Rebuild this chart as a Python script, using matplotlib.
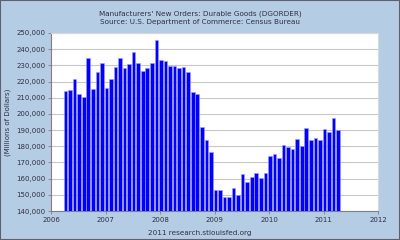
import matplotlib.pyplot as plt
from matplotlib.patches import Rectangle

# monthly durable goods orders, millions of dollars, Apr 2006 - Apr 2011
start_year = 2006
start_month = 4
orders = [214100, 214900, 221500, 212200, 210400, 234600, 215300, 225600, 231300,
          216100, 221300, 229100, 234600, 228200, 230700, 238500, 231300, 226600,
          228600, 231300, 245500, 233200, 232500, 229900, 229700, 228200, 229000,
          226000, 213700, 212300, 192200, 184000, 176200, 152700, 153100, 148600,
          148600, 154500, 149800, 162900, 157800, 161300, 163500, 160600, 163600,
          174200, 175000, 172900, 180500, 179300, 178500, 184400, 179900, 191100,
          184000, 185000, 183800, 190500, 188900, 197500, 190100]
years = [2006, 2007, 2008, 2009, 2010, 2011, 2012]

title = "Manufacturers' New Orders: Durable Goods (DGORDER)\nSource: U.S. Department of Commerce: Census Bureau"

bg = '#b4cce4'
txt = '#303040'

fig = plt.figure(figsize=(4, 2.4), dpi=100, facecolor=bg)
ax = fig.add_axes([0.1275, 0.1208, 0.8175, 0.7417])
ax.set_facecolor('white')

# bar x positions as decimal years
xs = []
for i in range(len(orders)):
    m = start_month - 1 + i
    xs.append(start_year + (m + 0.2) / 12)

ax.bar(xs, orders, width=0.8 / 12, color='#0000ff', edgecolor='#a0a0ff', linewidth=0.4, zorder=3)

ax.set_xlim(2006, 2012)
ax.set_ylim(140000, 250000)
ax.set_yticks(range(140000, 250001, 10000))
ax.set_yticklabels([f"{v:,}" for v in range(140000, 250001, 10000)])
ax.set_xticks(years)
ax.set_xticklabels([str(y) for y in years])
ax.tick_params(labelsize=5, colors='#808080', labelcolor=txt, length=2, width=0.6, pad=2)

ax.yaxis.grid(True, color='#c8c8c8', linewidth=0.8, zorder=0)
ax.set_axisbelow(True)
for s in ['left', 'bottom']:
    ax.spines[s].set_color('#808080')
    ax.spines[s].set_linewidth(0.8)
for s in ['top', 'right']:
    ax.spines[s].set_color('#d8d8d8')
    ax.spines[s].set_linewidth(0.8)

ax.set_ylabel('(Millions of Dollars)', fontsize=5, color=txt, labelpad=4)

fig.text(0.5, 0.955, title, ha='center', va='top', fontsize=5.2, color=txt, linespacing=1.3)
fig.text(0.5, 0.03, '2011 research.stlouisfed.org', ha='center', va='center', fontsize=5.2, color=txt)

fig.patches.append(Rectangle((0, 0), 1, 1, transform=fig.transFigure, fill=False,
                             edgecolor='#606070', linewidth=1.5))

fig.savefig('out.png', dpi=100, facecolor=bg)
